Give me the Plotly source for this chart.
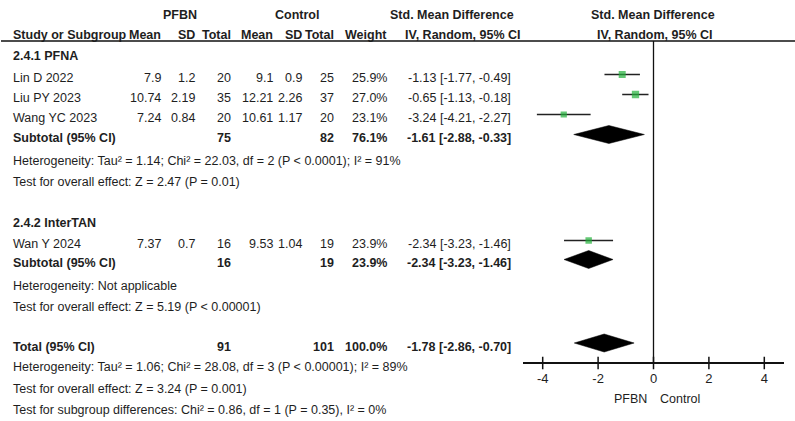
import plotly.graph_objects as go

# ---------------- data ----------------
studies = ["Lin D 2022", "Liu PY 2023", "Wang YC 2023", "Wan Y 2024"]
study_group = [0, 0, 0, 1]
e_mean = ["7.9", "10.74", "7.24", "7.37"]
e_sd = ["1.2", "2.19", "0.84", "0.7"]
e_total = [20, 35, 20, 16]
c_mean = ["9.1", "12.21", "10.61", "9.53"]
c_sd = ["0.9", "2.26", "1.17", "1.04"]
c_total = [25, 37, 20, 19]
weight = [25.9, 27.0, 23.1, 23.9]
smd = [-1.13, -0.65, -3.24, -2.34]
ci_lo = [-1.77, -1.13, -4.21, -3.23]
ci_hi = [-0.49, -0.18, -2.27, -1.46]

groups = ["2.4.1 PFNA", "2.4.2 InterTAN"]
sub_e_total = [75, 16]
sub_c_total = [82, 19]
sub_weight = [76.1, 23.9]
sub_smd = [-1.61, -2.34]
sub_lo = [-2.88, -3.23]
sub_hi = [-0.33, -1.46]
sub_het = ["Heterogeneity: Tau² = 1.14; Chi² = 22.03, df = 2 (P < 0.0001); I² = 91%",
           "Heterogeneity: Not applicable"]
sub_test = ["Test for overall effect: Z = 2.47 (P = 0.01)",
            "Test for overall effect: Z = 5.19 (P < 0.00001)"]

tot_e_total = 91
tot_c_total = 101
tot_weight = 100.0
tot_smd = -1.78
tot_lo = -2.86
tot_hi = -0.70
tot_notes = ["Heterogeneity: Tau² = 1.06; Chi² = 28.08, df = 3 (P < 0.00001); I² = 89%",
             "Test for overall effect: Z = 3.24 (P = 0.001)",
             "Test for subgroup differences: Chi² = 0.86, df = 1 (P = 0.35), I² = 0%"]

x_ticks = [-4, -2, 0, 2, 4]
favours = ["PFBN", "Control"]

# ---------------- layout constants (pixels) ----------------
W, H = 795, 421
FONT = "Liberation Sans, Arial, sans-serif"
FS = 12.5
TXT = "#1e1e1e"
GREEN = "#22b03a"

study_rows = [78, 98, 118, 244]
group_rows = [56, 223]
sub_rows = [138, 263]
het_rows = [161, 286]
test_rows = [182, 306.5]
tot_row = 346.5
tot_note_rows = [367, 389, 410]
MARK_OFF = -3.5  # plot marks sit slightly above the text centre

col_name = 11
col_em, col_esd, col_et = 163, 197, 233
col_cm, col_csd, col_ct = 275, 304, 336
col_w = 389
col_ci = 513

axis_y = 363
zero_px = 653.5
ppu = 27.7
xr = [-4.7, 4.7]
dom = [(zero_px + xr[0] * ppu) / W, (zero_px + xr[1] * ppu) / W]

fig = go.Figure()
ann = []


def t(x, y, s, anchor="left", bold=False, size=FS):
    ann.append(dict(x=x, y=y, xref="x2", yref="y", text=(f"<b>{s}</b>" if bold else s),
                    showarrow=False, xanchor=anchor, yanchor="middle",
                    font=dict(family=FONT, size=size, color=TXT)))


def ci_text(v, lo, hi):
    return f"{v:.2f} [{lo:.2f}, {hi:.2f}]"


# headers
t(180, 15, "PFBN", "center", True)
t(297, 15, "Control", "center", True)
t(452, 15, "Std. Mean Difference", "center", True)
t(653, 15, "Std. Mean Difference", "center", True)
hy = 35
t(col_name, hy, "Study or Subgroup", "left", True)
for x, s in [(col_em, "Mean"), (col_esd, "SD"), (col_et, "Total"), (col_cm, "Mean"),
             (col_csd, "SD"), (col_ct, "Total"), (col_w, "Weight")]:
    t(x, hy, s, "right", True)
t(463, hy, "IV, Random, 95% CI", "center", True)
t(655, hy, "IV, Random, 95% CI", "center", True)

# studies
for i, s in enumerate(studies):
    y = study_rows[i]
    t(col_name, y, s)
    t(col_em, y, e_mean[i], "right")
    t(col_esd, y, e_sd[i], "right")
    t(col_et, y, str(e_total[i]), "right")
    t(col_cm, y, c_mean[i], "right")
    t(col_csd, y, c_sd[i], "right")
    t(col_ct, y, str(c_total[i]), "right")
    t(col_w, y, f"{weight[i]:.1f}%", "right")
    t(col_ci, y, ci_text(smd[i], ci_lo[i], ci_hi[i]), "right")

# groups
for g in range(len(groups)):
    t(col_name, group_rows[g], groups[g], "left", True)
    y = sub_rows[g]
    t(col_name, y, "Subtotal (95% CI)", "left", True)
    t(col_et, y, str(sub_e_total[g]), "right", True)
    t(col_ct, y, str(sub_c_total[g]), "right", True)
    t(col_w, y, f"{sub_weight[g]:.1f}%", "right", True)
    t(col_ci, y, ci_text(sub_smd[g], sub_lo[g], sub_hi[g]), "right", True)
    t(col_name, het_rows[g], sub_het[g])
    t(col_name, test_rows[g], sub_test[g])

# total
t(col_name, tot_row, "Total (95% CI)", "left", True)
t(col_et, tot_row, str(tot_e_total), "right", True)
t(col_ct, tot_row, str(tot_c_total), "right", True)
t(col_w, tot_row, f"{tot_weight:.1f}%", "right", True)
t(col_ci, tot_row, ci_text(tot_smd, tot_lo, tot_hi), "right", True)
for y, s in zip(tot_note_rows, tot_notes):
    t(col_name, y, s)

# favours labels
ann.append(dict(x=0, y=399, xref="x", yref="y", text=favours[0], showarrow=False,
                xanchor="right", yanchor="middle", xshift=-5,
                font=dict(family=FONT, size=FS, color=TXT)))
ann.append(dict(x=0, y=399, xref="x", yref="y", text=favours[1], showarrow=False,
                xanchor="left", yanchor="middle", xshift=4,
                font=dict(family=FONT, size=FS, color=TXT)))

# header rule and zero line
shapes = [
    dict(type="line", xref="x2", yref="y", x0=1, x1=W, y0=41, y1=41,
         line=dict(color="#111", width=1.5)),
    dict(type="line", xref="x", yref="y", x0=0, x1=0, y0=41, y1=axis_y,
         line=dict(color="#111", width=1.3)),
]

# whiskers
for i in range(len(studies)):
    y = study_rows[i] + MARK_OFF
    fig.add_trace(go.Scatter(x=[ci_lo[i], ci_hi[i]], y=[y, y], mode="lines",
                             line=dict(color="#222", width=1.5), xaxis="x", yaxis="y",
                             hoverinfo="skip", showlegend=False))
fig.add_trace(go.Scatter(x=smd, y=[r + MARK_OFF for r in study_rows], mode="markers",
                         marker=dict(symbol="square", color=GREEN,
                                     size=[w * 0.27 for w in weight], line=dict(width=0)),
                         xaxis="x", yaxis="y", showlegend=False))

# diamonds
DH = 9
for est, lo, hi, row in list(zip(sub_smd, sub_lo, sub_hi, sub_rows)) + [(tot_smd, tot_lo, tot_hi, tot_row)]:
    c = row + MARK_OFF
    fig.add_trace(go.Scatter(x=[lo, est, hi, est, lo], y=[c, c - DH, c, c + DH, c],
                             mode="lines", fill="toself", fillcolor="black",
                             line=dict(color="black", width=0.5), xaxis="x", yaxis="y",
                             showlegend=False, hoverinfo="skip"))

# crossing tick marks
fig.add_trace(go.Scatter(x=x_ticks, y=[axis_y] * len(x_ticks), mode="markers",
                         marker=dict(symbol="line-ns", size=9, line=dict(color="#111", width=1.5)),
                         xaxis="x", yaxis="y", showlegend=False, hoverinfo="skip"))

fig.update_layout(
    width=W, height=H, margin=dict(l=0, r=0, t=0, b=0),
    paper_bgcolor="white", plot_bgcolor="rgba(0,0,0,0)",
    font=dict(family=FONT, size=FS, color=TXT),
    xaxis=dict(domain=dom, range=xr, anchor="free", position=(H - axis_y) / H,
               showline=True, linecolor="#111", linewidth=1.5, showgrid=False, zeroline=False,
               tickvals=x_ticks, ticktext=[str(v) for v in x_ticks], ticks="outside",
               ticklen=4, tickcolor="rgba(0,0,0,0)",
               tickfont=dict(family=FONT, size=FS + 0.5, color=TXT)),
    xaxis2=dict(domain=[0, 1], range=[0, W], anchor="y", visible=False),
    yaxis=dict(domain=[0, 1], range=[H, 0], visible=False),
    annotations=ann, shapes=shapes, showlegend=False,
)

fig.write_html("out.html")
